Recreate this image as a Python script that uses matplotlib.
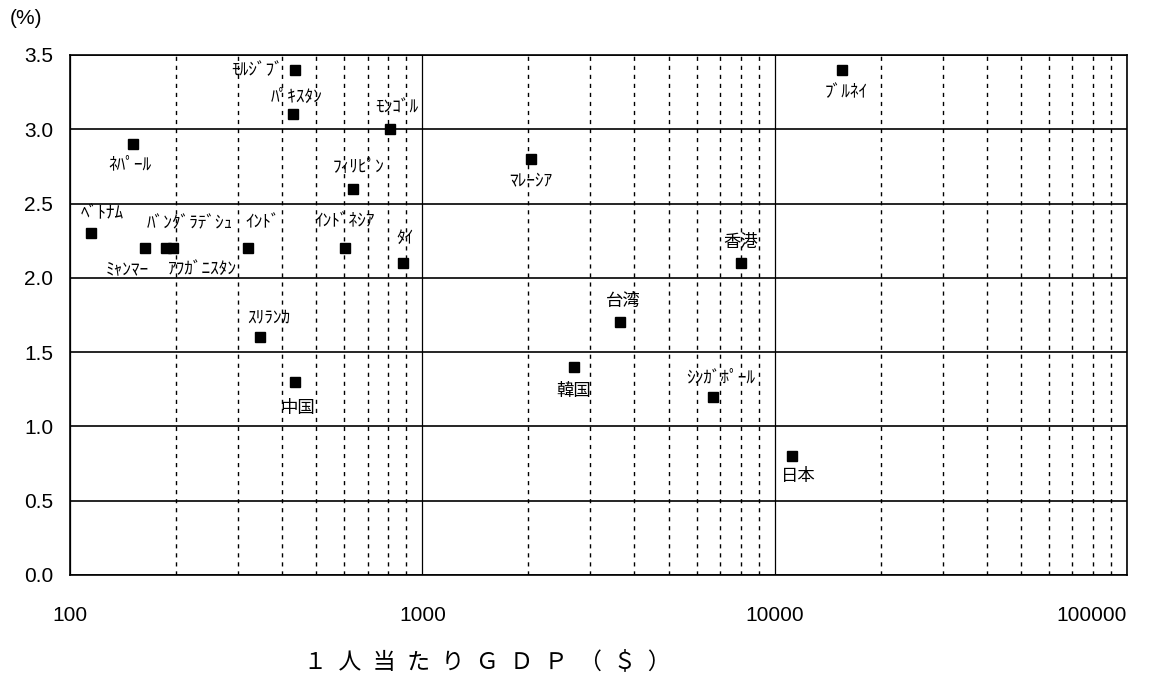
import matplotlib
matplotlib.use("Agg")
import matplotlib.pyplot as plt
from matplotlib.ticker import FixedLocator, NullFormatter, LogLocator

plt.rcParams['font.family'] = ['Noto Sans CJK JP', 'DejaVu Sans']

# data
countries = ["ﾍﾞﾄﾅﾑ", "ﾈﾊﾟｰﾙ", "ﾐｬﾝﾏｰ", "ﾊﾞﾝｸﾞﾗﾃﾞｼｭ", "ｱﾌｶﾞﾆｽﾀﾝ", "ｲﾝﾄﾞ",
             "ｲﾝﾄﾞﾈｼｱ", "ﾀｲ", "ｽﾘﾗﾝｶ", "中国", "ﾓﾙｼﾞﾌﾞ", "ﾊﾟｷｽﾀﾝ", "ﾓﾝｺﾞﾙ",
             "ﾌｨﾘﾋﾟﾝ", "ﾏﾚｰｼｱ", "韓国", "台湾", "香港", "ｼﾝｶﾞﾎﾟｰﾙ", "ﾌﾞﾙﾈｲ", "日本"]
gdp = [115, 151, 163, 187, 196, 320,
       604, 883, 347, 436, 436, 430, 811,
       637, 2030, 2690, 3630, 8050, 6670, 15500, 11170]
rate = [2.3, 2.9, 2.2, 2.2, 2.2, 2.2,
        2.2, 2.1, 1.6, 1.3, 3.4, 3.1, 3.0,
        2.6, 2.8, 1.4, 1.7, 2.1, 1.2, 3.4, 0.8]

# label offsets from each point, in pixels
label_offsets = [(11, 20), (-3, -20), (-18, -22), (24, 25), (29, -22), (15, 26),
                 (-1, 27), (2, 24), (8, 20), (2, -26), (-38, 0), (3, 18), (7, 22),
                 (5, 22), (0, -22), (0, -24), (4, 21), (-1, 21), (8, 19), (5, -22), (7, -20)]

x_ticks = [100, 1000, 10000, 100000]
y_ticks = [0.0, 0.5, 1.0, 1.5, 2.0, 2.5, 3.0, 3.5]

fig = plt.figure(figsize=(11.72, 6.78), dpi=100)
ax = fig.add_axes([70 / 1172, 103 / 678, 1057 / 1172, 520 / 678])

ax.set_xscale('log')
ax.set_xlim(100, 100000)
ax.set_ylim(0, 3.5)

ax.xaxis.set_major_locator(FixedLocator(x_ticks))
ax.xaxis.set_minor_locator(LogLocator(base=10, subs=range(2, 10)))
ax.xaxis.set_minor_formatter(NullFormatter())
ax.set_xticklabels([str(v) for v in x_ticks])
ax.set_yticks(y_ticks)
ax.set_yticklabels([f"{v:.1f}" for v in y_ticks])

ax.grid(True, which='major', axis='y', color='black', lw=1.2, ls='-')
ax.grid(True, which='major', axis='x', color='black', lw=0.9, ls='-')
ax.grid(True, which='minor', axis='x', color='black', lw=1.0, ls=(0, (3, 3.5)))
ax.set_axisbelow(True)
for s in ax.spines.values():
    s.set_linewidth(1.2)

ax.tick_params(which='both', length=0)
ax.tick_params(axis='x', pad=22)
ax.tick_params(axis='y', pad=12)
for lab in ax.get_xticklabels() + ax.get_yticklabels():
    lab.set_fontfamily(['Liberation Sans', 'DejaVu Sans'])
    lab.set_fontsize(15)
ax.get_xticklabels()[-1].set_horizontalalignment('right')

ax.plot(gdp, rate, ls='none', marker='s', ms=7, color='black', zorder=3)

for name, x, y, off in zip(countries, gdp, rate, label_offsets):
    ax.annotate(name, (x, y), xytext=off, textcoords='offset pixels',
                ha='center', va='center', fontsize=12.5)

fig.text(10 / 1172, 1 - 19 / 678, "(%)", fontsize=15, va='center', ha='left',
         family=['Liberation Sans', 'DejaVu Sans'])
fig.text(487 / 1172, 1 - 662 / 678, "１\u2002人\u2002当\u2002た\u2002り\u2002Ｇ\u2002Ｄ\u2002Ｐ\u2002（\u2002＄\u2002）",
         fontsize=16.5, ha='center', va='center')

fig.savefig("out.png", dpi=100)
